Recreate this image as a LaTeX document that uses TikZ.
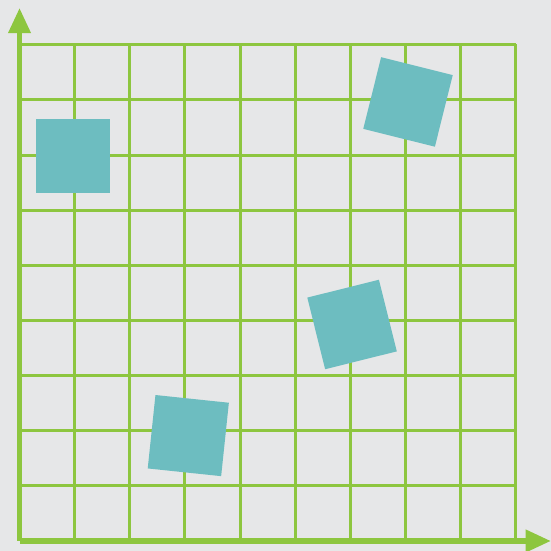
\documentclass[tikz,border=0pt]{standalone}
\usepackage{tikz}
\usetikzlibrary{arrows.meta}
\definecolor{bgGray}{RGB}{230,231,232}
\definecolor{gridGreen}{RGB}{141,198,63}
\definecolor{tileTeal}{RGB}{109,189,192}
\tikzset{
  tile/.style={fill=tileTeal, draw=none, minimum size=1.335cm, inner sep=0pt, outer sep=0pt},
  axisline/.style={gridGreen, line width=2.9pt, -{Triangle[length=13pt,width=11pt]}}
}

\begin{document}
\begin{tikzpicture}
    % background
    \fill[bgGray] (-0.353,-0.181) rectangle (9.61,9.783);
    \useasboundingbox (-0.353,-0.181) rectangle (9.61,9.783);

    % grid
    \draw[gridGreen, line width=1.5pt, step=0.997] (0,0) grid (8.98,8.98);

    % axes
    \coordinate (O) at (0,0);
    \coordinate (xend) at (9.61,0);
    \coordinate (yend) at (0,9.64);
    \draw[axisline] (O) -- (xend);
    \draw[axisline] (O) -- (yend);

    % tiles
    \node[tile] (tileA) at (0.967,6.962) {};
    \node[tile, rotate=-14] (tileB) at (7.025,7.939) {};
    \node[tile, rotate=14] (tileC) at (6.013,3.915) {};
    \node[tile, rotate=-6] (tileD) at (3.052,1.906) {};
\end{tikzpicture}
\end{document}
